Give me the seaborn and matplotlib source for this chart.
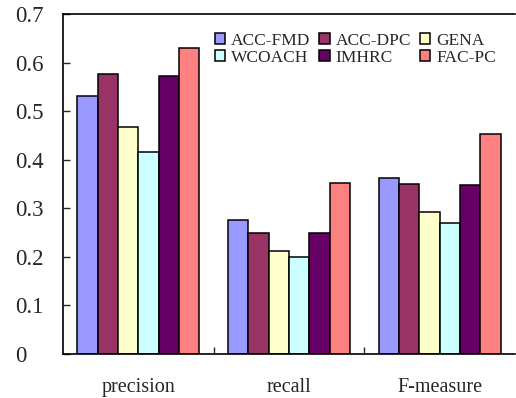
import pandas as pd
import matplotlib
matplotlib.use('Agg')
import matplotlib.pyplot as plt
import seaborn as sns
from matplotlib.ticker import FixedLocator

sns.set_style('white')
plt.rcParams['font.family'] = ['Liberation Serif', 'DejaVu Serif']

metrics = ['precision', 'recall', 'F-measure']
methods = ['ACC-FMD', 'ACC-DPC', 'GENA', 'WCOACH', 'IMHRC', 'FAC-PC']
colors = ['#9999FF', '#993366', '#FFFFCC', '#CCFFFF', '#660066', '#FF8080']

acc_fmd = [0.531, 0.276, 0.363]
acc_dpc = [0.576, 0.250, 0.350]
gena = [0.468, 0.213, 0.293]
wcoach = [0.415, 0.200, 0.270]
imhrc = [0.573, 0.250, 0.347]
fac_pc = [0.629, 0.353, 0.452]

yticks = [0, 0.1, 0.2, 0.3, 0.4, 0.5, 0.6, 0.7]

values = [acc_fmd, acc_dpc, gena, wcoach, imhrc, fac_pc]
rows = []
for m, vals in zip(methods, values):
    for met, v in zip(metrics, vals):
        rows.append({'metric': met, 'method': m, 'value': v})
df = pd.DataFrame(rows)

fig = plt.figure(figsize=(5.16, 3.98), dpi=100)
ax = fig.add_axes([63 / 516, 1 - 354 / 398, 1 - 63 / 516 - 0.002, (354 - 14) / 398])

sns.barplot(data=df, x='metric', y='value', hue='method', order=metrics,
            hue_order=methods, palette=colors, width=0.81, saturation=1,
            edgecolor='black', linewidth=1.1, ax=ax)

ax.set_xlim(-0.5, 2.5)
ax.set_ylim(0, 0.7)
ax.set_yticks(yticks)
ax.set_yticklabels(['0' if t == 0 else f'{t:.1f}' for t in yticks], fontsize=16.5)
for lab in ax.get_yticklabels():
    lab.set_horizontalalignment('left')
ax.set_xlabel('')
ax.set_ylabel('')
ax.tick_params(axis='y', direction='in', length=5, width=1, left=True, pad=34.5)
ax.tick_params(axis='x', which='major', length=0, labelsize=14.5, pad=17)
ax.xaxis.set_minor_locator(FixedLocator([0.5, 1.5]))
ax.tick_params(axis='x', which='minor', direction='in', length=5, width=1, bottom=True)

for side in ['left', 'bottom', 'top']:
    ax.spines[side].set_visible(True)
    ax.spines[side].set_color('black')
    ax.spines[side].set_linewidth(1.2)
ax.spines['right'].set_visible(False)

handles, labels = ax.get_legend_handles_labels()
order = [0, 3, 1, 4, 2, 5]
ax.legend([handles[i] for i in order], [labels[i] for i in order], ncol=3,
          frameon=False, fontsize=12.5, loc='upper left', bbox_to_anchor=(0.32, 0.965),
          handlelength=0.6, handleheight=0.6, handletextpad=0.35, columnspacing=0.5,
          labelspacing=0.05, borderaxespad=0)

fig.savefig('out.png', dpi=100)
